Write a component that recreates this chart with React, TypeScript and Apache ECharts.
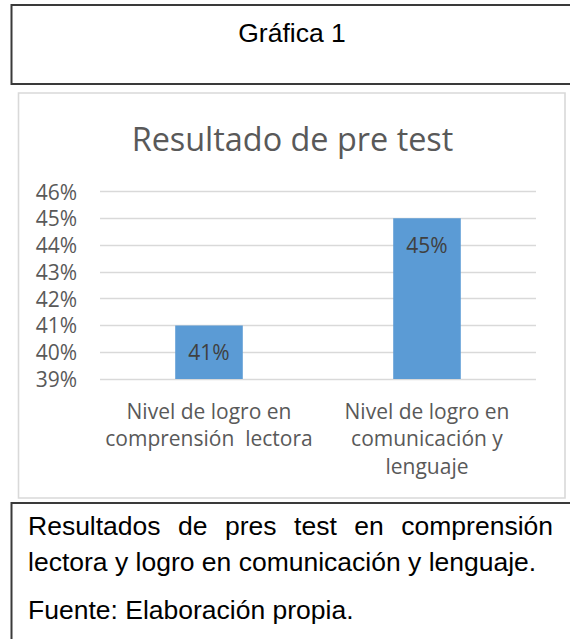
import React, { useEffect, useRef } from "react";
import * as echarts from "echarts";

// ---- data ----
const categories = [
  "Nivel de logro en\ncomprensión  lectora",
  "Nivel de logro en\ncomunicación y\nlenguaje",
];
const values = [41, 45];
const yMin = 39;
const yMax = 46;
const yStep = 1;
const chartTitle = "Resultado de pre test";
const heading = "Gráfica 1";
const captionWords = ["Resultados", "de", "pres", "test", "en", "comprensión"];
const captionLine2 = "lectora y logro en comunicación y lenguaje.";
const sourceLine = "Fuente: Elaboración propia.";

const DOC_FONT = '26.5px "Liberation Sans", Arial, sans-serif';
const CHART_FONT = '"Open Sans", sans-serif';

function justifiedWords(words: string[], font: string, x0: number, x1: number, y: number) {
  const ctx = document.createElement("canvas").getContext("2d") as CanvasRenderingContext2D;
  ctx.font = font;
  const widths = words.map((w) => ctx.measureText(w).width);
  const total = widths.reduce((a, b) => a + b, 0);
  const gap = (x1 - x0 - total) / (words.length - 1);
  let x = x0;
  return words.map((w, i) => {
    const el = {
      type: "text",
      x,
      y,
      style: { text: w, font, fill: "#000", align: "left", verticalAlign: "middle" },
    };
    x += widths[i] + gap;
    return el;
  });
}

export default function App() {
  const ref = useRef<HTMLDivElement>(null);
  useEffect(() => {
    if (!ref.current) return;
    const chart = echarts.init(ref.current, null, { renderer: "svg" });
    chart.setOption({
      animation: false,
      backgroundColor: "#fff",
      grid: { left: 100, right: 34, top: 191.5, bottom: 260, containLabel: false },
      xAxis: {
        type: "category",
        data: categories,
        axisLine: { show: false },
        axisTick: { show: false },
        axisLabel: {
          interval: 0,
          margin: 18,
          color: "#595959",
          fontFamily: CHART_FONT,
          fontSize: 21,
          lineHeight: 27.5,
          align: "center",
        },
      },
      yAxis: {
        type: "value",
        min: yMin,
        max: yMax,
        interval: yStep,
        axisLine: { show: false },
        axisTick: { show: false },
        axisLabel: {
          margin: 23,
          color: "#595959",
          fontFamily: CHART_FONT,
          fontSize: 21,
          formatter: "{value}%",
        },
        splitLine: { lineStyle: { color: "#d9d9d9", width: 1.3 } },
      },
      series: [
        {
          type: "bar",
          data: values,
          barWidth: "31%",
          itemStyle: { color: "#5B9BD5" },
          label: {
            show: true,
            position: "insideTop",
            distance: 16,
            formatter: "{c}%",
            color: "#404040",
            fontFamily: CHART_FONT,
            fontSize: 21,
          },
        },
      ],
      graphic: [
        {
          type: "rect",
          shape: { x: 11.5, y: 5, width: 600, height: 79 },
          style: { fill: "none", stroke: "#3a3a3a", lineWidth: 2 },
        },
        {
          type: "rect",
          shape: { x: 18.5, y: 93, width: 546.5, height: 405 },
          style: { fill: "none", stroke: "#d9d9d9", lineWidth: 1.6 },
        },
        {
          type: "rect",
          shape: { x: 11.5, y: 503, width: 600, height: 200 },
          style: { fill: "none", stroke: "#3a3a3a", lineWidth: 2 },
        },
        {
          type: "text",
          x: 292,
          y: 33,
          style: { text: heading, font: DOC_FONT, fill: "#000", align: "center", verticalAlign: "middle" },
        },
        {
          type: "text",
          x: 292.5,
          y: 138,
          style: {
            text: chartTitle,
            font: '32.4px "Open Sans", sans-serif',
            fill: "#595959",
            align: "center",
            verticalAlign: "middle",
          },
        },
        ...justifiedWords(captionWords, DOC_FONT, 28, 553, 526),
        {
          type: "text",
          x: 28,
          y: 562,
          style: { text: captionLine2, font: DOC_FONT, fill: "#000", align: "left", verticalAlign: "middle" },
        },
        {
          type: "text",
          x: 28,
          y: 610,
          style: { text: sourceLine, font: DOC_FONT, fill: "#000", align: "left", verticalAlign: "middle" },
        },
      ],
    });
    return () => chart.dispose();
  }, []);
  return (
    <div
      ref={ref}
      style={{ position: "fixed", left: 0, top: 0, width: 570, height: 639 }}
    />
  );
}
